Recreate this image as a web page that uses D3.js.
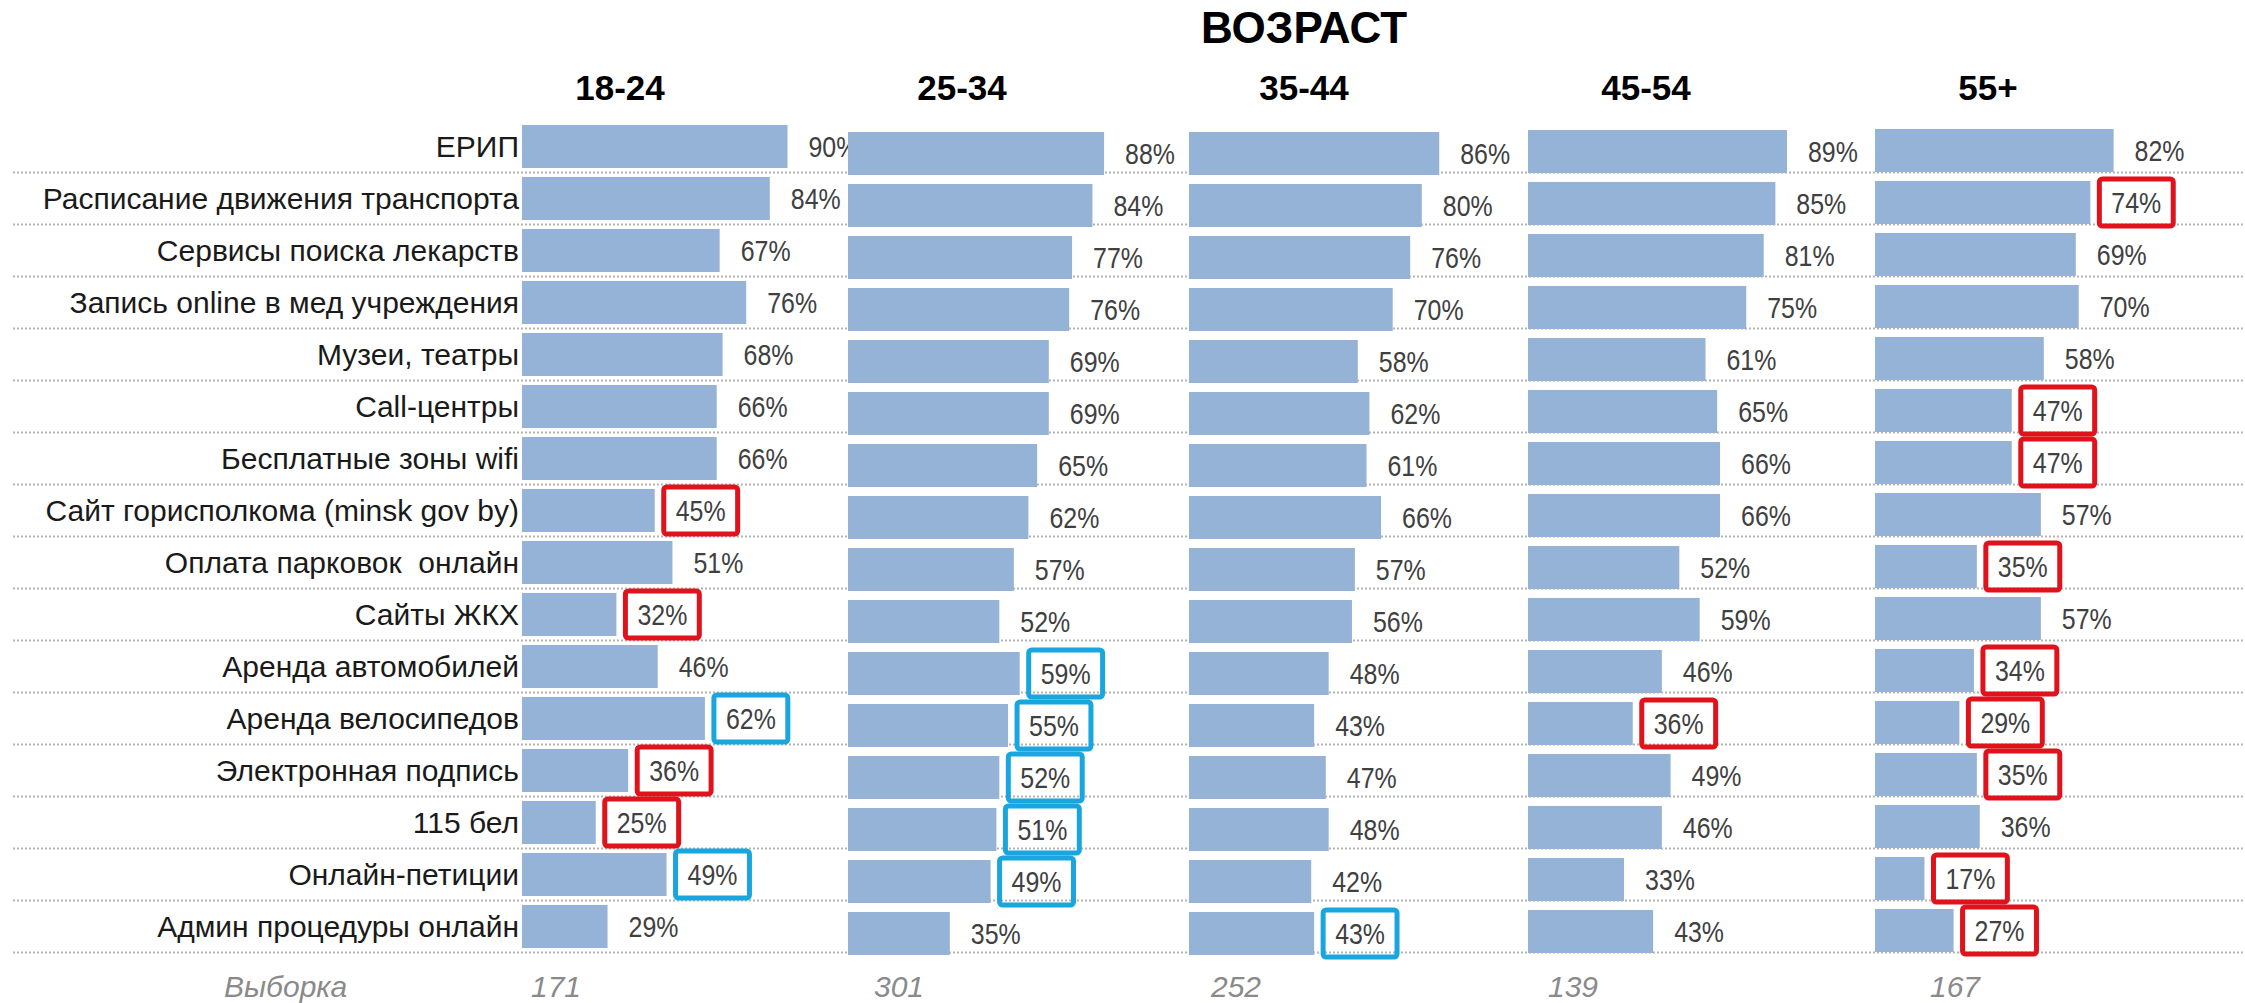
<!DOCTYPE html>
<html><head><meta charset="utf-8">
<script src="https://cdn.jsdelivr.net/npm/d3@7"></script>
<style>
html,body{margin:0;padding:0;background:#fff;}
svg{display:block;}
</style></head>
<body>
<svg id="chart" width="2245" height="1003"></svg>
<script>
// ---------- DATA ----------
const title = "ВОЗРАСТ";
const categories = [
  "ЕРИП",
  "Расписание движения транспорта",
  "Сервисы поиска лекарств",
  "Запись online в мед учреждения",
  "Музеи, театры",
  "Call-центры",
  "Бесплатные зоны wifi",
  "Сайт горисполкома (minsk gov by)",
  "Оплата парковок  онлайн",
  "Сайты ЖКХ",
  "Аренда автомобилей",
  "Аренда велосипедов",
  "Электронная подпись",
  "115 бел",
  "Онлайн-петиции",
  "Админ процедуры онлайн"
];
const groups = ["18-24", "25-34", "35-44", "45-54", "55+"];
const values1824 = [90,84,67,76,68,66,66,45,51,32,46,62,36,25,49,29];
const values2534 = [88,84,77,76,69,69,65,62,57,52,59,55,52,51,49,35];
const values3544 = [86,80,76,70,58,62,61,66,57,56,48,43,47,48,42,43];
const values4554 = [89,85,81,75,61,65,66,66,52,59,46,36,49,46,33,43];
const values55p  = [82,74,69,70,58,47,47,57,35,57,34,29,35,36,17,27];
// highlight boxes: "r" = red, "b" = blue, "" = none
const marks1824 = ["","","","","","","","r","","r","","b","r","r","b",""];
const marks2534 = ["","","","","","","","","","","b","b","b","b","b",""];
const marks3544 = ["","","","","","","","","","","","","","","","b"];
const marks4554 = ["","","","","","","","","","","","r","","","",""];
const marks55p  = ["","r","","","","r","r","","r","","r","r","r","","r","r"];
const sampleLabel = "Выборка";
const samples = [171, 301, 252, 139, 167];

const seriesValues = [values1824, values2534, values3544, values4554, values55p];
const seriesMarks = [marks1824, marks2534, marks3544, marks4554, marks55p];

// ---------- LAYOUT ----------
const panelLeft = [522, 848, 1189, 1528, 1875];
const panelTop = [125, 132, 132, 130, 129];
const panelScale = [295, 291, 291, 291, 291];   // pixels for 100%
const sampleOffset = [9, 26, 22, 20, 55];
const rowStep = 52;
const barColor = "#95b3d7";
const colors = { r: "#e0121c", b: "#19a6de" };
const sansFont = "'Liberation Sans', Arial, sans-serif";
const narrow = 0.86;

const svg = d3.select("#chart");
svg.append("rect").attr("width", 2245).attr("height", 1003).attr("fill", "#fff");

function yScaleFor(i) {
  const t = panelTop[i] - 4.5;
  return d3.scaleBand().domain(categories)
    .range([t, t + rowStep * categories.length])
    .paddingInner(0.173).paddingOuter(0.0865);
}

// gridlines (based on first panel)
const y0 = yScaleFor(0);
svg.append("g").selectAll("line").data(categories).join("line")
  .attr("x1", 13).attr("x2", 2245)
  .attr("y1", d => y0(d) + y0.bandwidth() + 4.5)
  .attr("y2", d => y0(d) + y0.bandwidth() + 4.5)
  .attr("stroke", "#b4b4b4").attr("stroke-width", 2)
  .attr("stroke-dasharray", "2,2");

// title
svg.append("text").attr("x", 1304).attr("y", 43)
  .attr("text-anchor", "middle").attr("font-family", sansFont)
  .attr("font-weight", "bold").attr("font-size", 44).attr("fill", "#000")
  .text(title);

// category labels
svg.append("g").selectAll("text").data(categories).join("text")
  .attr("x", 519).attr("y", d => y0(d) + y0.bandwidth() / 2 + 10.5)
  .attr("text-anchor", "end").attr("font-family", sansFont)
  .attr("font-size", 30).attr("fill", "#1a1a1a")
  .style("white-space", "pre")
  .text(d => d);

// sample label
svg.append("text").attr("x", 224).attr("y", 997)
  .attr("font-family", sansFont).attr("font-style", "italic")
  .attr("font-size", 30).attr("fill", "#8a8a8a").text(sampleLabel);

groups.forEach((g, i) => {
  const y = yScaleFor(i);
  const x = d3.scaleLinear().domain([0, 100]).range([panelLeft[i], panelLeft[i] + panelScale[i]]);
  const rows = categories.map((c, k) => ({ c, v: seriesValues[i][k], m: seriesMarks[i][k] }));
  const p = svg.append("g");

  // header
  p.append("text").attr("x", 620 + 342 * i).attr("y", 100)
    .attr("text-anchor", "middle").attr("font-family", sansFont)
    .attr("font-weight", "bold").attr("font-size", 35).attr("fill", "#000")
    .text(g);

  // bars
  p.append("g").selectAll("rect").data(rows).join("rect")
    .attr("x", x(0)).attr("y", d => y(d.c))
    .attr("width", d => x(d.v) - x(0)).attr("height", y.bandwidth())
    .attr("fill", barColor);

  // value labels
  const lab = p.append("g").selectAll("g").data(rows).join("g")
    .attr("transform", d => `translate(${x(d.v) + 21},${y(d.c) + y.bandwidth() / 2 + 10.4})`);
  const txt = lab.append("text")
    .attr("transform", `scale(${narrow},1)`)
    .attr("font-family", sansFont).attr("font-size", 29).attr("fill", "#404040")
    .text(d => d.v + "%");
  lab.each(function (d) {
    if (!d.m) return;
    const w = d3.select(this).select("text").node().getComputedTextLength() * narrow;
    d3.select(this).append("rect")
      .attr("x", -12).attr("y", -10.4 - 23.5)
      .attr("width", w + 24).attr("height", 47)
      .attr("rx", 3).attr("fill", "none")
      .attr("stroke", colors[d.m]).attr("stroke-width", 5);
  });

  // sample size
  p.append("text").attr("x", panelLeft[i] + sampleOffset[i]).attr("y", 997)
    .attr("font-family", sansFont).attr("font-style", "italic")
    .attr("font-size", 30).attr("fill", "#8a8a8a").text(samples[i]);
});
</script>
</body></html>
